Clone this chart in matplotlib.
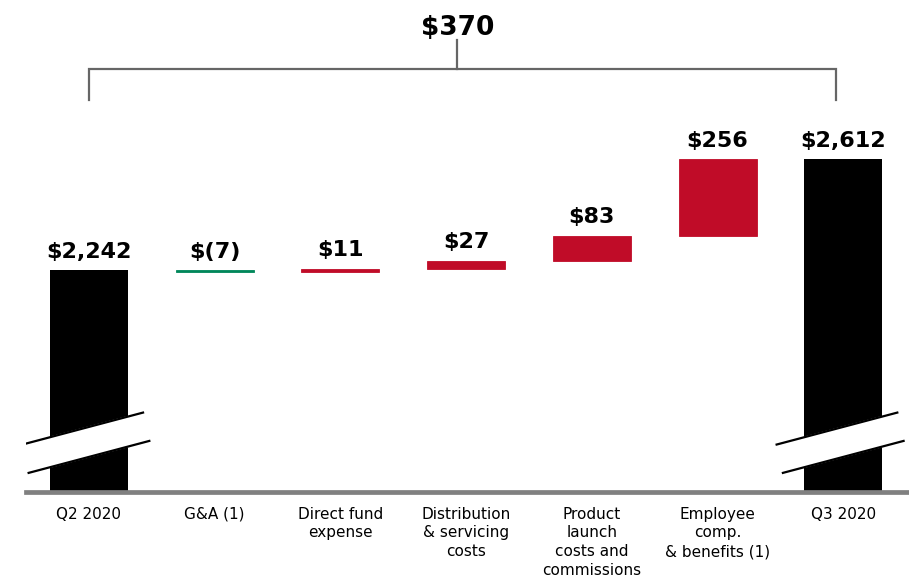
import matplotlib
matplotlib.use("Agg")
import matplotlib.pyplot as plt
import numpy as np

# donnees
categories = ["Q2 2020", "G&A (1)", "Direct fund\nexpense",
              "Distribution\n& servicing\ncosts",
              "Product\nlaunch\ncosts and\ncommissions",
              "Employee\ncomp.\n& benefits (1)", "Q3 2020"]
debut = 2242
variations = [-7, 11, 27, 83, 256]
fin = 2612
etiquettes = ["$2,242", "$(7)", "$11", "$27", "$83", "$256", "$2,612"]
total_variation = "$370"

rouge = "#C00C28"
vert = "#00875A"
gris = "#808080"

fig = plt.figure(figsize=(9.09, 5.78), dpi=100)
ax = fig.add_axes([26/909, 86/578, 883/909, 492/578])
ax.set_xlim(-0.501, 6.523)
ax.set_ylim(1502, 3142)
bas = 1502
x = np.arange(len(categories))
largeur = 0.62

# barres totales
for i, v in [(0, debut), (6, fin)]:
    ax.bar(x[i], v - bas, bottom=bas, width=largeur, color="black", zorder=2)

# barres de variation
niveau = debut
hauts = [debut]
for k, d in enumerate(variations):
    i = k + 1
    if d < 0:
        ax.bar(x[i], -d, bottom=niveau + d, width=largeur, color=vert,
               edgecolor=vert, lw=0.6, zorder=2)
        haut = niveau
    else:
        ax.bar(x[i], d, bottom=niveau, width=largeur, color=rouge,
               edgecolor=rouge, lw=0.6, zorder=2)
        haut = niveau + d
    hauts.append(haut)
    niveau = niveau + d
hauts.append(fin)

# etiquettes de valeur
for i in range(len(categories)):
    ax.annotate(etiquettes[i], (x[i], hauts[i]), xytext=(0, 6),
                textcoords="offset points", ha="center", va="bottom",
                fontsize=16, fontweight="bold", color="black")

# coupures de l'axe
centre_coupure = 1669
demi = 50
pente = 111
for i in [0, 6]:
    x1a, x1b = x[i] - 0.53, x[i] + 0.43
    x2a, x2b = x[i] - 0.48, x[i] + 0.48
    y1 = lambda t: centre_coupure + demi + pente * (t - x[i])
    y2 = lambda t: centre_coupure - demi + pente * (t - x[i])
    poly = [(x1a, y1(x1a)), (x1b, y1(x1b)), (x2b, y2(x2b)), (x2a, y2(x2a))]
    ax.fill([p[0] for p in poly], [p[1] for p in poly], color="white",
            zorder=3, clip_on=False)
    ax.plot([x1a, x1b], [y1(x1a), y1(x1b)], color="black", lw=1.6, zorder=4)
    ax.plot([x2a, x2b], [y2(x2a), y2(x2b)], color="black", lw=1.6, zorder=4)

# accolade du haut
yh = fin + 300
gauche = x[0]
droite = x[6] - 0.06
milieu = x[3] - 0.07
ax.plot([gauche, gauche, droite, droite], [yh - 103, yh, yh, yh - 103],
        color="#666666", lw=1.6, solid_joinstyle="miter", clip_on=False)
ax.plot([milieu, milieu], [yh, yh + 97], color="#666666", lw=1.6)
ax.text(milieu, yh + 112, total_variation, ha="center", va="baseline",
        fontsize=19, fontweight="bold")

# axe
ax.axhline(bas, color=gris, lw=3.4, zorder=5, clip_on=False)
for s in ax.spines.values():
    s.set_visible(False)
ax.set_yticks([])
ax.set_xticks(x)
ax.set_xticklabels(categories, fontsize=11, linespacing=1.32)
ax.tick_params(axis="x", length=0, pad=10.5)

fig.savefig("out.png", dpi=100)
